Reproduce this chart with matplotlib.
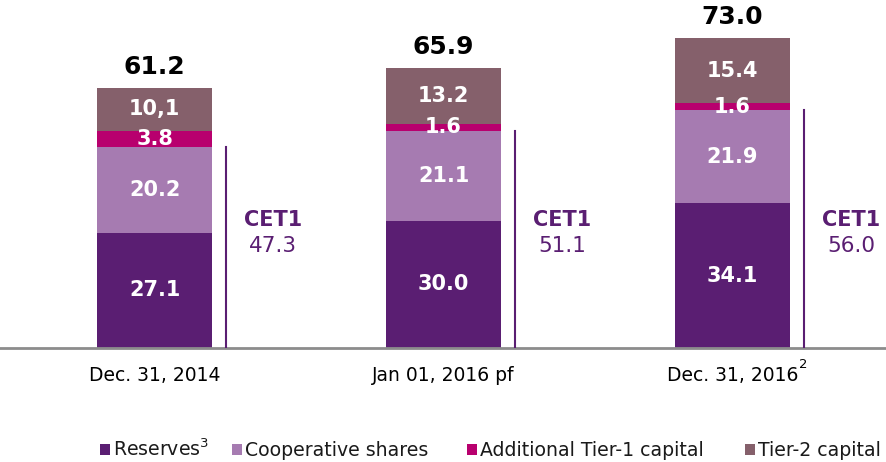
import numpy as np
import matplotlib.pyplot as plt
from matplotlib.patches import Rectangle

# data
categories = ["Dec. 31, 2014", "Jan 01, 2016 pf", "Dec. 31, 2016"]
reserves = [27.1, 30.0, 34.1]
coop_shares = [20.2, 21.1, 21.9]
at1 = [3.8, 1.6, 1.6]
tier2 = [10.1, 13.2, 15.4]
totals = [61.2, 65.9, 73.0]
cet1 = [47.3, 51.1, 56.0]

seg_labels = [
    ["27.1", "30.0", "34.1"],
    ["20.2", "21.1", "21.9"],
    ["3.8", "1.6", "1.6"],
    ["10,1", "13.2", "15.4"],
]
series_names = ["Reserves$^{3}$", "Cooperative shares", "Additional Tier-1 capital", "Tier-2 capital"]
colors = ["#5A1E72", "#A67BB1", "#B8006E", "#85606B"]
purple = "#5A1E72"

plt.rcParams['font.family'] = ['DejaVu Sans']

W, H = 886, 462
fig = plt.figure(figsize=(W / 100, H / 100), dpi=100)
ax = fig.add_axes([0, (H - 348) / H, 1, (348 - 20) / H])

x = np.arange(len(categories))
width = 0.398
series = [reserves, coop_shares, at1, tier2]
bottom = np.zeros(len(categories))
for vals, col, labs in zip(series, colors, seg_labels):
    vals = np.array(vals)
    ax.bar(x, vals, width, bottom=bottom, color=col, edgecolor="none", zorder=2)
    for xi, b, v, lab in zip(x, bottom, vals, labs):
        ax.text(xi, b + v / 2, lab, ha="center", va="center", color="white",
                fontsize=15, fontweight="bold", zorder=3)
    bottom = bottom + vals

for xi, t in zip(x, totals):
    ax.text(xi, t + 3.2, f"{t:.1f}", ha="center", va="baseline", color="black",
            fontsize=18, fontweight="bold")

# CET1 brackets
for xi, c in zip(x, cet1):
    lx = xi + 0.247
    ax.plot([lx, lx], [0, c], color=purple, lw=1.5, zorder=3)
    ax.text(lx + 0.163, 30.1, "CET1", ha="center", va="center", color=purple,
            fontsize=15, fontweight="bold")
    ax.text(lx + 0.163, 24.0, f"{c:.1f}", ha="center", va="center", color=purple,
            fontsize=15.5)

ax.set_xlim(-0.535, 2.531)
ax.set_ylim(0, 77.2)
ax.set_yticks([])
ax.set_xticks(x)
ax.set_xticklabels(categories, fontsize=13.5)
ax.tick_params(axis="x", length=0, pad=13)
# footnote mark on the last date
ax.annotate("2", xy=(x[-1], 0), xytext=(71, -17), textcoords="offset pixels",
            ha="center", va="center", fontsize=9.5)
for s in ["top", "right", "left"]:
    ax.spines[s].set_visible(False)
ax.spines["bottom"].set_color("#8C8C8C")
ax.spines["bottom"].set_linewidth(2)

# legend, drawn by hand to match the spacing
leg_x = [100, 232, 467, 745]
for lx, col, name in zip(leg_x, colors, series_names):
    fig.add_artist(Rectangle((lx / W, (H - 455) / H), 10 / W, 11 / H,
                             transform=fig.transFigure, facecolor=col, edgecolor="none"))
    fig.text((lx + 13) / W, (H - 456) / H, name, ha="left", va="baseline",
             fontsize=13.6, color="#1a1a1a")

fig.savefig("out.png", dpi=100)
